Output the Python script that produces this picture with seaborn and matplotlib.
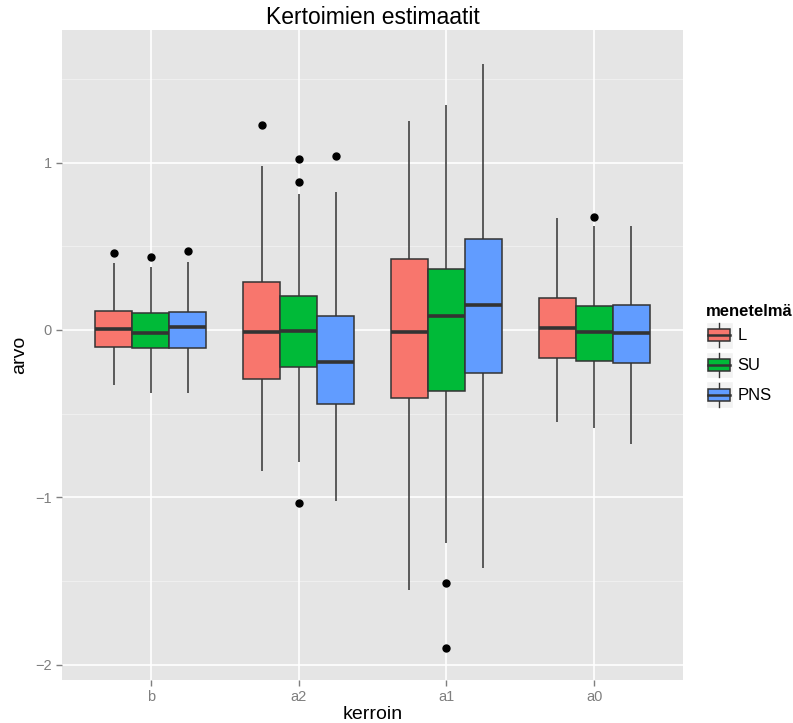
import numpy as np
import pandas as pd
import matplotlib
matplotlib.use("Agg")
import matplotlib.pyplot as plt
import seaborn as sns
from matplotlib.patches import Rectangle, Patch
from matplotlib.lines import Line2D
from matplotlib.legend_handler import HandlerBase

# ---- data (box statistics) ----
categories = ["b", "a2", "a1", "a0"]
methods = ["L", "SU", "PNS"]
colors = ["#F8766D", "#00BA38", "#619CFF"]

# order of rows: (category, method) for b, a2, a1, a0 x L, SU, PNS
whisker_low = [-0.33, -0.375, -0.378,
               -0.84, -0.79, -1.022,
               -1.554, -1.273, -1.425,
               -0.552, -0.588, -0.68]
q1 = [-0.10, -0.11, -0.108,
      -0.295, -0.221, -0.442,
      -0.408, -0.363, -0.259,
      -0.165, -0.185, -0.199]
median = [0.005, -0.016, 0.016,
          -0.01, -0.006, -0.193,
          -0.014, 0.082, 0.148,
          0.012, -0.014, -0.02]
q3 = [0.114, 0.10, 0.11,
      0.287, 0.205, 0.084,
      0.422, 0.363, 0.546,
      0.191, 0.143, 0.151]
whisker_high = [0.40, 0.375, 0.405,
                0.978, 0.815, 0.823,
                1.249, 1.343, 1.592,
                0.671, 0.622, 0.624]
outliers = [[0.46], [0.435], [0.474],
            [1.227], [0.885, 1.02, -1.035], [1.04],
            [], [-1.51, -1.903], [],
            [], [0.675], []]


def sample_for_stats(lo, a, m, b, hi, outs):
    """Sorted sample whose quartiles / whiskers / fliers equal the read statistics."""
    low = sorted(o for o in outs if o < a) + [lo]
    high = [hi] + sorted(o for o in outs if o > b)
    k = max(len(low), len(high))
    return low + [a] * (2 * k - len(low)) + [m] + [b] * (2 * k - len(high)) + high


rows = []
i = 0
for c in categories:
    for mth in methods:
        vals = sample_for_stats(whisker_low[i], q1[i], median[i], q3[i],
                                whisker_high[i], outliers[i])
        rows += [(c, mth, v) for v in vals]
        i += 1
df = pd.DataFrame(rows, columns=["kerroin", "menetelmä", "arvo"])

# ---- figure ----
plt.rcParams["font.family"] = ["Liberation Sans", "DejaVu Sans"]
fig = plt.figure(figsize=(7.93, 7.23), dpi=100)
ax = fig.add_axes([62 / 793, 1 - 680 / 723, (683 - 62) / 793, (680 - 30) / 723])
ax.set_facecolor("#E5E5E5")

# minor / major grid
for y in [-1.5, -0.5, 0.5, 1.5]:
    ax.axhline(y, color="#F2F2F2", lw=0.6, zorder=0)
for y in [-2, -1, 0, 1]:
    ax.axhline(y, color="white", lw=1.2, zorder=0.5)
for x in range(len(categories)):
    ax.axvline(x, color="white", lw=1.2, zorder=0.5)

sns.boxplot(data=df, x="kerroin", y="arvo", hue="menetelmä",
            order=categories, hue_order=methods, palette=colors,
            saturation=1, width=0.75, gap=0, dodge=True,
            linecolor="#333333", linewidth=1.1, showcaps=False,
            whis=1.5,
            medianprops=dict(linewidth=2.6, color="#333333"),
            flierprops=dict(marker="o", markersize=5, markerfacecolor="black",
                            markeredgecolor="black"),
            ax=ax, legend=False, zorder=2)

ax.set_xlim(-0.6, 3.6)
ax.set_ylim(-2.092, 1.793)
ax.set_yticks([-2, -1, 0, 1])
ax.set_yticklabels(["\u22122", "\u22121", "0", "1"])
for s in ax.spines.values():
    s.set_visible(False)
ax.tick_params(axis="both", colors="#7F7F7F", labelcolor="#7F7F7F",
               labelsize=10.5, length=4, width=1)
ax.set_xlabel("kerroin", fontsize=14, color="black", labelpad=1)
ax.set_ylabel("arvo", fontsize=14, color="black", labelpad=5)
ax.set_title("Kertoimien estimaatit", fontsize=16.5, color="black", pad=4)


class BoxKeyHandler(HandlerBase):
    def create_artists(self, legend, orig_handle, xdescent, ydescent,
                       width, height, fontsize, trans):
        x0, y0 = -xdescent, -ydescent
        fc = orig_handle.get_facecolor()
        bg = Rectangle((x0, y0), width, height, facecolor="#F2F2F2",
                       edgecolor="white", lw=1, transform=trans)
        cx = x0 + width / 2
        wl = Line2D([cx, cx], [y0 + 1, y0 + height - 1], color="#333333",
                    lw=1, transform=trans)
        box = Rectangle((x0 + width * 0.1, y0 + height * 0.27),
                        width * 0.8, height * 0.46, facecolor=fc,
                        edgecolor="#333333", lw=1.1, transform=trans)
        cy = y0 + height / 2
        med = Line2D([x0 + width * 0.1, x0 + width * 0.9], [cy, cy],
                     color="#333333", lw=1.8, transform=trans)
        return [bg, wl, box, med]


handles = [Patch(facecolor=c, label=m) for c, m in zip(colors, methods)]
leg = fig.legend(handles=handles, labels=methods, title="menetelmä",
                 loc="center left", bbox_to_anchor=(699 / 793, 1 - 356 / 723),
                 frameon=False, fontsize=12, title_fontsize=12,
                 handler_map={Patch: BoxKeyHandler()},
                 handlelength=1.62, handleheight=2.11, labelspacing=0.18,
                 handletextpad=0.3, borderaxespad=0)
leg.get_title().set_fontweight("bold")
leg._legend_box.align = "left"

fig.savefig("out.png", dpi=100)
